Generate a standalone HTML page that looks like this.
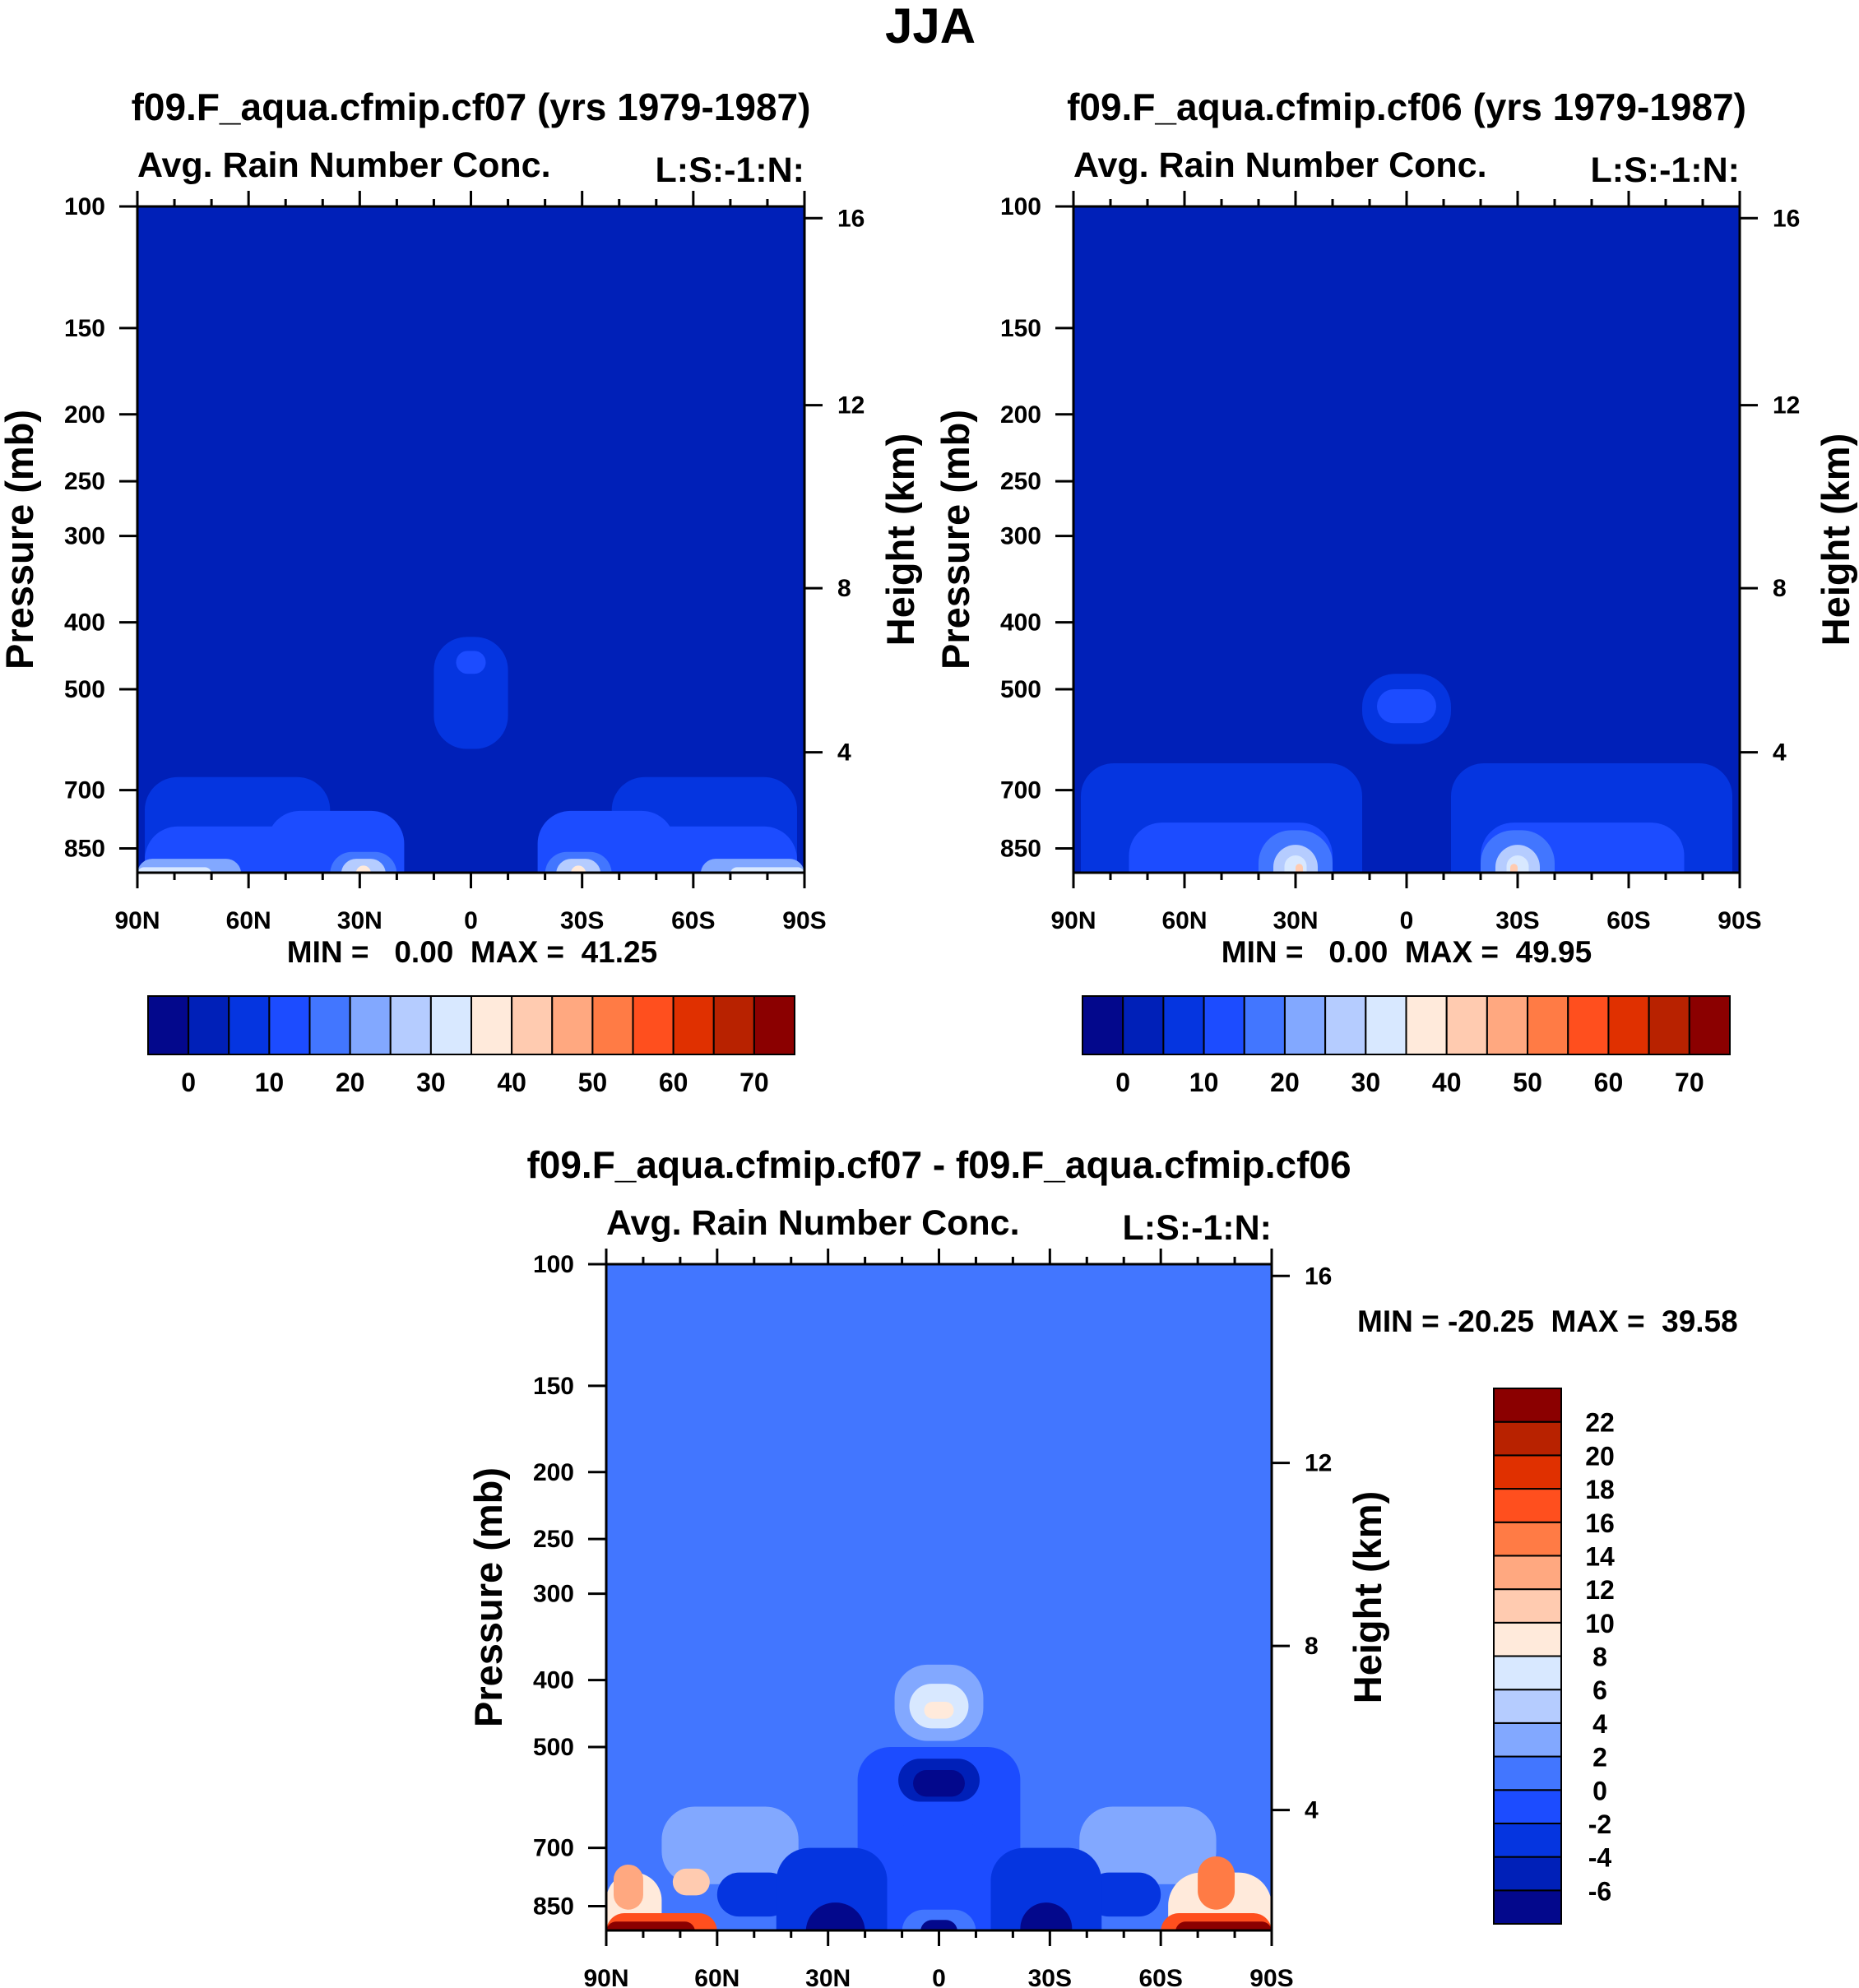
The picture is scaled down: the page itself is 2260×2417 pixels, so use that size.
<!DOCTYPE html>
<html><head><meta charset="utf-8"><style>
html,body{margin:0;padding:0;background:#fff;}
svg{display:block;font-family:"Liberation Sans",sans-serif;font-weight:bold;}
</style></head><body>
<svg id="c" width="2260" height="2417" viewBox="0 0 2260 2417" xmlns="http://www.w3.org/2000/svg">
<text x="1131" y="52" font-size="60" text-anchor="middle">JJA</text>
</svg>
<script>
// colour classes
const colors1=["#03088c","#0020b8","#0535e0","#1c4cff","#4276ff","#82a8ff","#b5ccff","#d8e8ff","#ffeadb","#ffcbb0","#ffa880","#ff7b45","#ff4f1e","#e03000","#b82200","#8b0000"];
const levels1=[0,5,10,15,20,25,30,35,40,45,50,55,60,65,70];
const levels3=[-6,-4,-2,0,2,4,6,8,10,12,14,16,18,20,22];
const latTicks=[90,60,30,0,-30,-60,-90];
const latLabels=["90N","60N","30N","0","30S","60S","90S"];
const presTicks=[100,150,200,250,300,400,500,700,850];
const hgtTicks=[4,8,12,16];
const hgtPres=[617,357,194,104];
// panel 1 blobs (west lat, east lat, top p, bottom p, value)
const p1West=[88,-38,88,-42,55,-18,38,-20,35,-23,31,-27,90,90,-62,-70,10,4];
const p1East=[38,-88,42,-88,18,-55,20,-38,23,-35,27,-31,62,70,-90,-90,-10,-4];
const p1Top=[670,670,790,790,750,750,860,860,880,880,900,900,880,905,880,905,420,440];
const p1Bot=[925,925,925,925,925,925,925,925,925,925,925,925,925,925,925,925,610,475];
const p1Val=[7,7,12,12,12,12,18,18,27,27,37,37,22,32,22,32,7,12];
// panel 2 blobs
const p2West=[88,-12,75,-20,40,-20,36,-24,33,-27,30,-28,12,8];
const p2East=[12,-88,20,-75,20,-40,24,-36,27,-33,28,-30,-12,-8];
const p2Top=[640,640,780,780,800,800,840,840,870,870,895,895,475,500];
const p2Bot=[925,925,925,925,925,925,925,925,925,925,925,925,600,560];
const p2Val=[7,7,12,12,18,18,27,27,32,32,42,42,7,12];
// panel 3 blobs (difference)
const p3West=[75,-38,60,-40,22,44,-14,14,36,-22,11,7,90,88,72,-62,-70,90,90,-60,-64,12,8,4,10,5];
const p3East=[38,-75,40,-60,-22,14,-44,-14,20,-36,-11,-7,75,80,62,-90,-80,60,66,-90,-90,-12,-8,-4,-10,-5];
const p3Top=[610,610,760,760,500,700,700,640,840,840,520,540,760,740,750,760,720,870,895,870,895,380,405,430,860,890];
const p3Bot=[790,790,880,880,925,925,925,925,925,925,600,590,925,860,820,925,860,925,925,925,925,490,470,455,925,925];
const p3Val=[3,3,-3,-3,-1,-3,-3,-1,-7,-7,-5,-7,8,12,10,8,14,16,23,16,23,3,7,9,1,-7];

const svg=document.getElementById('c');
const NS="http://www.w3.org/2000/svg";
function el(tag,attrs,parent){const e=document.createElementNS(NS,tag);for(const k in attrs)e.setAttribute(k,attrs[k]);(parent||svg).appendChild(e);return e;}
function txt(x,y,s,size,anchor,parent,rot){const t=el('text',{x:x,y:y,'font-size':size,'text-anchor':anchor||'start'},parent);if(rot)t.setAttribute('transform','rotate(-90 '+x+' '+y+')');t.textContent=s;return t;}
function classOf(v,levels){let i=0;while(i<levels.length&&v>=levels[i])i++;return i;}

function panel(x0,y0,w,h,bgVal,levels,W,E,T,B,V,title,minmax,mmx,mmy,mmAnchor,name){
  const g=el('g',{},svg);
  
  
  const pTop=100,pBot=100*Math.exp(2.221);
  const X=lat=>x0+(90-lat)/180*w;
  const Y=p=>y0+(Math.log(p)-Math.log(pTop))/(Math.log(pBot)-Math.log(pTop))*h;
  const clip='clip'+name;
  const cp=el('clipPath',{id:clip},g);el('rect',{x:x0,y:y0,width:w,height:h},cp);
  const bg=el('rect',{x:x0,y:y0,width:w,height:h,fill:colors1[classOf(bgVal,levels)]},g);
  
  
  const fg=el('g',{'clip-path':'url(#'+clip+')'},g);
  for(let i=0;i<V.length;i++){
    const xa=X(W[i]),xb=X(E[i]),ya=Y(T[i]),yb=Y(B[i]);
    let r0=Math.min((xb-xa)/2,(yb-ya)/2,40);
    let yb2=yb;
    if(B[i]>=900){r0=Math.min((xb-xa)/2,(yb-ya),40);yb2=yb+r0+4;}
    const r=el('rect',{x:xa,y:ya,width:xb-xa,height:yb2-ya,rx:r0,fill:colors1[classOf(V[i],levels)]},fg);
    
    
  }
  el('rect',{x:x0,y:y0,width:w,height:h,fill:'none',stroke:'#000','stroke-width':3},g);
  for(let lat=90;lat>=-90;lat-=10){
    const major=lat%30===0, x=X(lat), L=major?19:9;
    el('line',{x1:x,y1:y0,x2:x,y2:y0-L,stroke:'#000','stroke-width':3},g);
    el('line',{x1:x,y1:y0+h,x2:x,y2:y0+h+L,stroke:'#000','stroke-width':3},g);
  }
  latTicks.forEach((lat,i)=>{const t=txt(X(lat),y0+h+68,latLabels[i],30,'middle',g);
    
    });
  presTicks.forEach(p=>{const y=Y(p);el('line',{x1:x0-22,y1:y,x2:x0,y2:y,stroke:'#000','stroke-width':3},g);
    const t=txt(x0-39,y+10,String(p),30,'end',g);
    
    });
  hgtTicks.forEach((z,i)=>{const y=Y(hgtPres[i]);el('line',{x1:x0+w,y1:y,x2:x0+w+22,y2:y,stroke:'#000','stroke-width':3},g);
    const t=txt(x0+w+40,y+10,String(z),30,'start',g);
    
    });
  let t=txt(x0-127,y0+h/2,'Pressure (mb)',47,'middle',g,true);
  
  
  t=txt(x0+w+133,y0+h/2,'Height (km)',47,'middle',g,true);
  
  
  t=txt(x0,y0-36,'Avg. Rain Number Conc.',43,'start',g);
  
  
  t=txt(x0+w,y0-30,'L:S:-1:N:',43,'end',g);
  
  
  t=txt(x0+w/2,y0-105,title,46,'middle',g);
  
  
  t=el('text',{x:mmx,y:mmy,'font-size':37,'text-anchor':mmAnchor},g);
  t.setAttribute('style','white-space:pre');
  t.textContent=minmax;
  
  
}
panel(167,251,811,810,2.5,levels1,p1West,p1East,p1Top,p1Bot,p1Val,'f09.F_aqua.cfmip.cf07 (yrs 1979-1987)','MIN =   0.00  MAX =  41.25',574,1170,'middle','panel-cf07');
panel(1305,251,810,810,2.5,levels1,p2West,p2East,p2Top,p2Bot,p2Val,'f09.F_aqua.cfmip.cf06 (yrs 1979-1987)','MIN =   0.00  MAX =  49.95',1710,1170,'middle','panel-cf06');
panel(737,1537,809,810,1,levels3,p3West,p3East,p3Top,p3Bot,p3Val,'f09.F_aqua.cfmip.cf07 - f09.F_aqua.cfmip.cf06','MIN = -20.25  MAX =  39.58',1650,1619,'start','panel-difference');

function hbar(x0,y0,w,h,name){
  const g=el('g',{},svg);
  
  
  const bw=w/16;
  colors1.forEach((c,i)=>{const r=el('rect',{x:x0+i*bw,y:y0,width:bw,height:h,fill:c,stroke:'#000','stroke-width':2},g);
    
    });
  levels1.forEach((v,i)=>{if(i%2===0){const t=txt(x0+(i+1)*bw,y0+h+45,String(v),32,'middle',g);
    
    }});
}
hbar(180,1211,786,71,'colorbar-cf07');
hbar(1316,1211,787,71,'colorbar-cf06');
(function(){
  const x0=1816,y0=1688,w=82,h=651,bh=h/16;
  const g=el('g',{},svg);
  
  
  colors1.forEach((c,i)=>{const r=el('rect',{x:x0,y:y0+h-(i+1)*bh,width:w,height:bh,fill:c,stroke:'#000','stroke-width':2},g);
    
    });
  levels3.forEach((v,i)=>{const t=txt(x0+w+47,y0+h-(i+1)*bh+12,String(v),32,'middle',g);
    
    });
})();
</script>
</body></html>
